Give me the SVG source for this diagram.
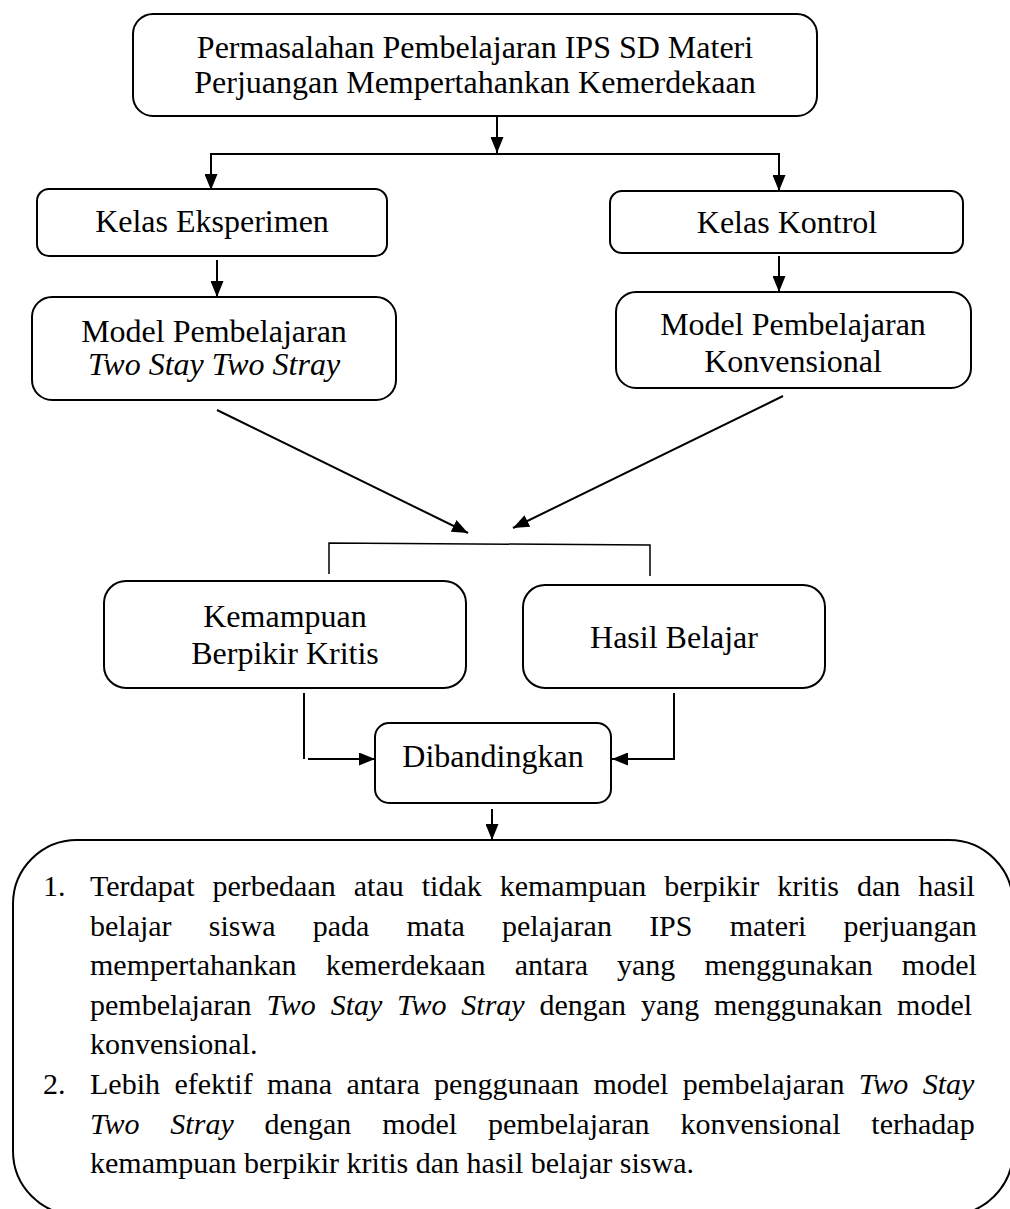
<svg xmlns="http://www.w3.org/2000/svg" width="1010" height="1209" viewBox="0 0 1010 1209" font-family="'Liberation Serif', 'Times New Roman', Times, serif">
<defs>
<marker id="ah" viewBox="0 0 16 13" refX="16" refY="6.5" markerWidth="16" markerHeight="13" markerUnits="userSpaceOnUse" orient="auto"><path d="M0,0 L16,6.5 L0,13 z" fill="#000"/></marker>
<style>
.box{fill:#fff;stroke:#000;stroke-width:2}
.t{font-family:'Liberation Serif','Times New Roman',Times,serif;font-size:32px;fill:#000;text-anchor:middle}
.b{font-family:'Liberation Serif','Times New Roman',Times,serif;font-size:30px;fill:#000}
.i{font-style:italic}
.c line,.c polyline{stroke:#000;stroke-width:2;fill:none}
.c .a{marker-end:url(#ah)}
.c .thin{stroke-width:1.5}
</style>
</defs>
<rect width="1010" height="1209" fill="#fff"/>
<g id="connectors" class="c">
<line class="a" x1="497" y1="116" x2="497" y2="153"/>
<line x1="210" y1="154" x2="780" y2="154"/>
<line class="a" x1="211" y1="154" x2="211" y2="190"/>
<line class="a" x1="779" y1="154" x2="779" y2="191"/>
<line class="a" x1="217" y1="260" x2="217" y2="297"/>
<line class="a" x1="779" y1="256" x2="779" y2="292"/>
<line class="a" x1="217" y1="410" x2="468" y2="533"/>
<line class="a" x1="783" y1="396" x2="513" y2="528"/>
<polyline class="thin" points="329,574 329,543 650,545 650,576"/>
<line x1="304" y1="693" x2="304" y2="759"/>
<line class="a" x1="308" y1="759" x2="375" y2="759"/>
<polyline points="674,693 674,759 630,759"/>
<line class="a" x1="674" y1="759" x2="612" y2="759"/>
<line class="a" x1="492" y1="809" x2="492" y2="840"/>
</g>
<g id="n-masalah">
<rect class="box" x="133" y="14" width="684" height="102" rx="20"/>
<text class="t" x="475" y="58">Permasalahan Pembelajaran IPS SD Materi</text>
<text class="t" x="475" y="93">Perjuangan Mempertahankan Kemerdekaan</text>
</g>
<g id="n-eksperimen">
<rect class="box" x="37" y="189" width="350" height="67" rx="12"/>
<text class="t" x="212" y="232">Kelas Eksperimen</text>
</g>
<g id="n-kontrol">
<rect class="box" x="610" y="191" width="353" height="62" rx="12"/>
<text class="t" x="787" y="233">Kelas Kontrol</text>
</g>
<g id="n-model-tsts">
<rect class="box" x="32" y="297" width="364" height="103" rx="20"/>
<text class="t" x="214" y="342">Model Pembelajaran</text>
<text class="t i" x="214" y="375">Two Stay Two Stray</text>
</g>
<g id="n-model-konv">
<rect class="box" x="616" y="292" width="355" height="96" rx="20"/>
<text class="t" x="793" y="335">Model Pembelajaran</text>
<text class="t" x="793" y="372">Konvensional</text>
</g>
<g id="n-kritis">
<rect class="box" x="104" y="581" width="362" height="107" rx="22"/>
<text class="t" x="285" y="627">Kemampuan</text>
<text class="t" x="285" y="664">Berpikir Kritis</text>
</g>
<g id="n-hasil">
<rect class="box" x="523" y="585" width="302" height="103" rx="22"/>
<text class="t" x="674" y="648">Hasil Belajar</text>
</g>
<g id="n-banding">
<rect class="box" x="375" y="723" width="236" height="80" rx="14"/>
<text class="t" x="493" y="767">Dibandingkan</text>
</g>
<g id="n-kesimpulan">
<rect class="box" x="13" y="840" width="1000" height="375" rx="64"/>
<text class="b" x="43" y="896">1.</text>
<text class="b" x="90" y="896" word-spacing="10.5">Terdapat perbedaan atau tidak kemampuan berpikir kritis dan hasil</text>
<text class="b" x="90" y="935.6" word-spacing="29.7">belajar siswa pada mata pelajaran IPS materi perjuangan</text>
<text class="b" x="90" y="975.2" word-spacing="21.6">mempertahankan kemerdekaan antara yang menggunakan model</text>
<text class="b" x="90" y="1014.8" word-spacing="7.3">pembelajaran <tspan class="i">Two Stay Two Stray</tspan> dengan yang menggunakan model</text>
<text class="b" x="90" y="1054.4">konvensional.</text>
<text class="b" x="43" y="1094">2.</text>
<text class="b" x="90" y="1094" word-spacing="6.9">Lebih efektif mana antara penggunaan model pembelajaran <tspan class="i">Two Stay</tspan></text>
<text class="b" x="90" y="1133.6" word-spacing="23.4"><tspan class="i">Two Stray</tspan> dengan model pembelajaran konvensional terhadap</text>
<text class="b" x="90" y="1173.2">kemampuan berpikir kritis dan hasil belajar siswa.</text>
</g>
</svg>
